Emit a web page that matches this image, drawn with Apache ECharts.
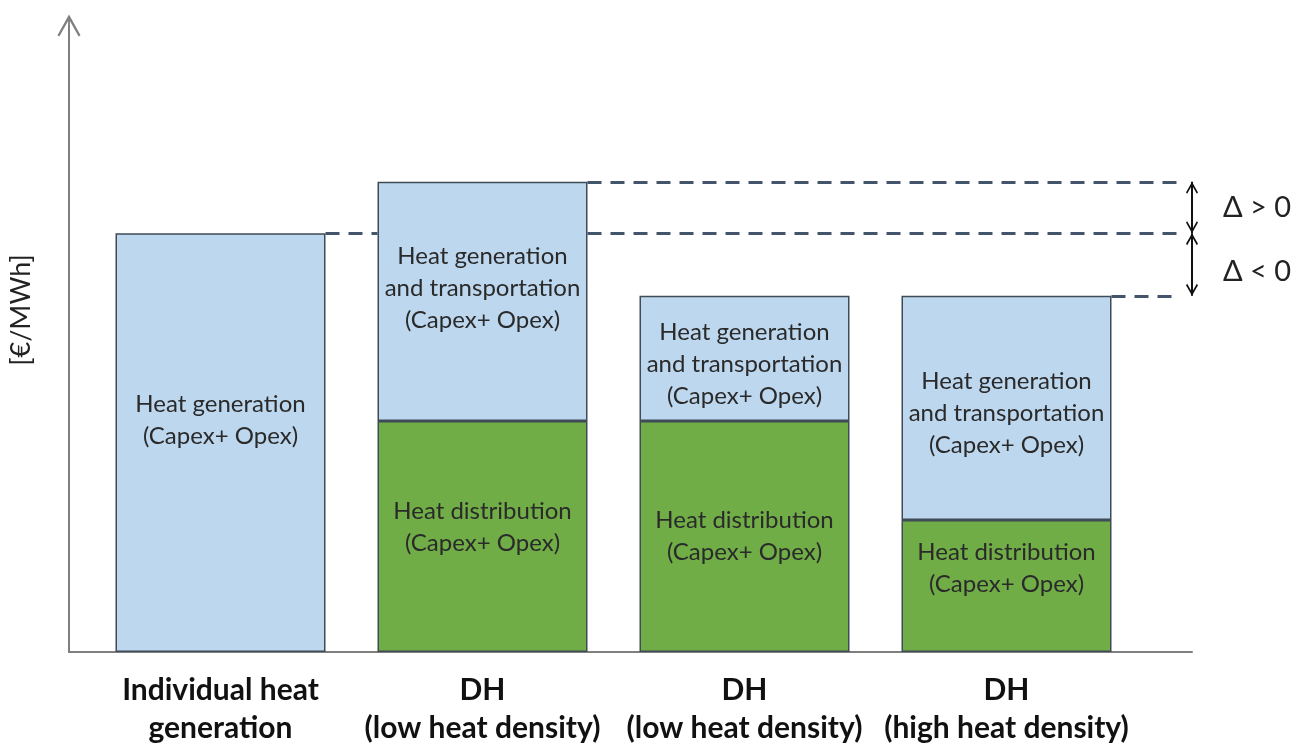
<!DOCTYPE html>
<html>
<head>
<meta charset="utf-8">
<script src="https://cdn.jsdelivr.net/npm/echarts@6/dist/echarts.min.js"></script>
<style>
  html, body { margin: 0; background: #fff; }
  #chart { width: 1306px; height: 747px; }
</style>
</head>
<body>
<div id="chart"></div>
<script>
// categories on the x axis
var categories = ['Individual heat\ngeneration', 'DH\n(low heat density)', 'DH\n(low heat density)', 'DH\n(high heat density)'];
// green part (bottom of the stack)
var distribution = [null, 36.9, 36.9, 21.1];
// light blue part (top of the stack)
var generation = [66.9, 38.2, 20.0, 35.8];
var distributionText = ['', 'Heat distribution\n(Capex+ Opex)', 'Heat distribution\n(Capex+ Opex)', 'Heat distribution\n(Capex+ Opex)'];
var generationText = [
  'Heat generation\n(Capex+ Opex)',
  'Heat generation\nand transportation\n(Capex+ Opex)',
  'Heat generation\nand transportation\n(Capex+ Opex)',
  'Heat generation\nand transportation\n(Capex+ Opex)'
];
var deltaText = ['Δ > 0', 'Δ < 0'];

var totals = generation.map(function (g, i) { return g + (distribution[i] || 0); });

var font = 'Lato';
var barW = 210;
var chevron = 'path://M5,0 L10,8 L9,9 L5,2.6 L1,9 L0,8 Z';
var axisArrow = 'path://M5,0 L10,9 L9.2,9.6 L5.4,2.8 L5.4,10 L4.6,10 L4.6,2.8 L0.8,9.6 L0,9 Z';

var greenOffsets = [0, -9, 0, -18];
var blueOffsets = [-22, -13, 6, 5];

var labelStyle = {
  show: true,
  position: 'inside',
  color: '#2a2a2a',
  fontSize: 24,
  lineHeight: 32,
  fontFamily: font
};

var chart = echarts.init(document.getElementById('chart'));
chart.setOption({
  animation: false,
  grid: [
    { left: 66, right: 114, top: 26, bottom: 95 },
    { left: 89.5, width: 1048, top: 26, bottom: 95 }
  ],
  xAxis: [
    {
      gridIndex: 0, type: 'value', min: 0, max: 1,
      axisLine: { show: true, lineStyle: { color: '#7f7f7f', width: 2 } },
      axisTick: { show: false }, axisLabel: { show: false }, splitLine: { show: false }
    },
    {
      gridIndex: 1, type: 'category', data: categories,
      axisLine: { show: false }, axisTick: { show: false },
      axisLabel: {
        interval: 0, margin: 19, fontSize: 30, fontWeight: 'bold',
        lineHeight: 38, color: '#111', fontFamily: font
      }
    }
  ],
  yAxis: [
    {
      gridIndex: 0, type: 'value', min: 0, max: 100,
      axisLine: {
        show: true, symbol: ['none', axisArrow], symbolSize: [26, 23],
        lineStyle: { color: '#7f7f7f', width: 2 }
      },
      axisTick: { show: false }, axisLabel: { show: false }, splitLine: { show: false },
      name: '[€/MWh]', nameLocation: 'middle', nameGap: 34, nameRotate: 90,
      nameTextStyle: { fontSize: 27, color: '#222', fontFamily: font, padding: [0, 0, 0, 58] }
    },
    { gridIndex: 1, type: 'value', min: 0, max: 100, show: false }
  ],
  series: [
    {
      name: 'Heat distribution',
      type: 'bar', xAxisIndex: 1, yAxisIndex: 1, stack: 'cost', barWidth: barW,
      itemStyle: { color: '#70ad47', borderColor: '#3f4b57', borderWidth: 1.5 },
      label: labelStyle,
      data: distribution.map(function (v, i) {
        return { value: v, label: { formatter: distributionText[i], offset: [0, greenOffsets[i]] } };
      })
    },
    {
      name: 'Heat generation',
      type: 'bar', xAxisIndex: 1, yAxisIndex: 1, stack: 'cost', barWidth: barW,
      itemStyle: { color: '#bdd7ee', borderColor: '#3f4b57', borderWidth: 1.5 },
      label: labelStyle,
      data: generation.map(function (v, i) {
        return { value: v, label: { formatter: generationText[i], offset: [0, blueOffsets[i]] } };
      })
    },
    {
      id: 'refLines',
      type: 'line', xAxisIndex: 1, yAxisIndex: 1, data: []
    },
    {
      // double arrows with the delta labels
      type: 'line', xAxisIndex: 1, yAxisIndex: 1, data: [],
      markLine: {
        silent: true, symbol: [chevron, chevron], symbolSize: 12,
        symbolOffset: [[0, 6], [0, 6]],
        label: { show: false },
        lineStyle: { type: 'solid', color: '#111', width: 2 },
        emphasis: { disabled: true },
        data: [
          [{ xAxis: 3, yAxis: totals[1], x: 1192 }, { xAxis: 3, yAxis: totals[0], x: 1192 }],
          [{ xAxis: 3, yAxis: totals[0], x: 1192 }, { xAxis: 3, yAxis: totals[3], x: 1192 }]
        ]
      },
      markPoint: {
        silent: true, symbol: 'circle', symbolSize: 0,
        label: { show: true, position: 'inside', formatter: '{b}', fontSize: 29, color: '#222', fontFamily: font },
        data: [
          { name: deltaText[0], xAxis: 3, yAxis: (totals[0] + totals[1]) / 2, x: 1257 },
          { name: deltaText[1], xAxis: 3, yAxis: (totals[0] + totals[3]) / 2, x: 1257, label: { offset: [0, 7] } }
        ]
      }
    }
  ]
});

// dashed lines start at the bar edges, so read the bar centres from the axis
function edge(i, side) {
  var p = chart.convertToPixel({ gridIndex: 1 }, [i, 0]);
  return p[0] + side * barW / 2;
}
chart.setOption({
  series: [{
    id: 'refLines',
    markLine: {
      silent: true, symbol: 'none',
      label: { show: false },
      lineStyle: { type: [14, 9], color: '#44546a', width: 3 },
      emphasis: { disabled: true },
      data: [
        [{ xAxis: 0, yAxis: totals[0], x: edge(0, 1) }, { xAxis: 1, yAxis: totals[0], x: edge(1, -1) }],
        [{ xAxis: 1, yAxis: totals[0], x: edge(1, 1) }, { xAxis: 3, yAxis: totals[0], x: 1180 }],
        [{ xAxis: 1, yAxis: totals[1], x: edge(1, 1) }, { xAxis: 3, yAxis: totals[1], x: 1183 }],
        [{ xAxis: 3, yAxis: totals[3], x: edge(3, 1) }, { xAxis: 3, yAxis: totals[3], x: 1180 }]
      ]
    }
  }]
});
</script>
</body>
</html>
